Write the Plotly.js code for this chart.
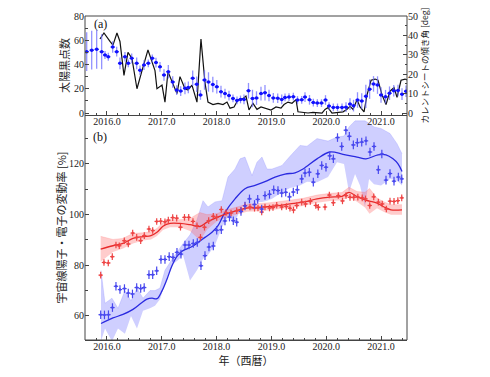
<!DOCTYPE html>
<html><head><meta charset="utf-8">
<script src="https://cdn.plot.ly/plotly-3.0.1.min.js"></script>
<style>html,body{margin:0;padding:0;background:#fff}#chart{width:490px;height:377px}</style>
</head><body><div id="chart"></div>
<script>
// ---- (a) sunspot number (left axis) ----
const sunspotYear = [2015.872,2015.945,2016.055,2016.109,2016.182,2016.237,2016.310,2016.383,2016.456,2016.547,2016.639,2016.748,2016.876,2016.912,2017.004,2017.058,2017.113,2017.186,2017.277,2017.332,2017.423,2017.478,2017.551,2017.642,2017.715,2017.788,2017.843,2017.934,2018.026,2018.117,2018.190,2018.245,2018.318,2018.391,2018.482,2018.536,2018.591,2018.664,2018.737,2018.810,2018.901,2018.993,2019.084,2019.175,2019.230,2019.303,2019.376,2019.449,2019.485,2019.577,2019.668,2019.759,2019.850,2019.923,2019.978,2020.033,2020.106,2020.197,2020.307,2020.380,2020.434,2020.489,2020.562,2020.617,2020.690,2020.745,2020.818,2020.891,2020.945,2021.018,2021.091,2021.164,2021.237,2021.292,2021.365,2021.438,2021.493];
const sunspotNumber = [61,66,59,56,66,59,31,50,45,20,35,52,35,20,23,9,34,26,16,30,20,19,23,9,61,25,9,7,8,7,9,4,5,11,12,14,2.5,8,3,5,4,2.5,5,4,7,9,8,11,1,0.4,0,0.5,0.5,0,3,4.5,0,0.5,1,3,5.5,3,11,5,1,15,27,28,27,15,7,18,21,13,27,28,27];

// ---- (a) current sheet tilt angle (right axis, deg) ----
const tiltYear = [2015.630,2015.721,2015.812,2015.903,2015.964,2016.024,2016.104,2016.177,2016.237,2016.328,2016.389,2016.451,2016.542,2016.602,2016.675,2016.754,2016.827,2016.894,2016.967,2017.040,2017.119,2017.199,2017.272,2017.345,2017.423,2017.484,2017.564,2017.637,2017.706,2017.779,2017.852,2017.931,2018.004,2018.080,2018.153,2018.226,2018.299,2018.372,2018.436,2018.500,2018.582,2018.655,2018.728,2018.810,2018.883,2018.956,2019.035,2019.115,2019.188,2019.248,2019.321,2019.400,2019.476,2019.553,2019.613,2019.695,2019.765,2019.838,2019.914,2019.987,2020.051,2020.130,2020.206,2020.288,2020.361,2020.434,2020.498,2020.571,2020.648,2020.723,2020.792,2020.863,2020.936,2021.000,2021.082,2021.155,2021.232,2021.310,2021.383,2021.456];
const tiltAngle = [31.6,32.4,32.8,31.6,29.9,29,34,31.6,25.6,29,25.6,28.2,25.6,22,24.7,25.6,28.2,26,23.8,19.6,21.3,16,11.8,11.3,12.7,13.2,17.9,14.8,9.3,17,16,14.7,13.5,11,10,9,7.5,6.5,7,7,11.5,7.5,7.7,10,10.5,9,7.8,7.6,7,8,8.2,8.4,6.7,6.8,8.2,6.8,5.4,5.1,5.1,6.7,3.6,2.9,2.9,2.9,3,4.6,3.8,6.7,6.2,8.6,12.3,15,14.4,9.3,8.4,10.2,11.5,11.6,9.7,11.2];
const tiltErr = [10,10,10,9,2,2,3,2.5,3,2.5,2,2.5,3,2.5,2.5,2,2,2.5,2.5,3,3.5,3,2.5,2.5,3,3,4,4,2.5,5,5,4,3.5,3,2.5,2.5,2,2,2,2.5,4,4.5,3.5,3.5,4,3,2.5,2.5,2.5,2,2,2,2,2,2.5,2.5,2,2,2,2.5,2,2,2,2,2.5,3,3,4,4,6,5,4,4.5,4,3.5,3.5,3,3,3,3];
const tiltHalfRotation = 0.037;

// ---- (b) cosmic-ray variation (%) ----
const redYear = [2015.885,2015.945,2016.024,2016.097,2016.164,2016.224,2016.316,2016.389,2016.469,2016.542,2016.615,2016.681,2016.766,2016.834,2016.907,2016.980,2017.058,2017.119,2017.199,2017.272,2017.341,2017.414,2017.491,2017.569,2017.642,2017.706,2017.779,2017.856,2017.940,2018.002,2018.086,2018.172,2018.263,2018.367,2018.445,2018.518,2018.609,2018.692,2018.755,2018.823,2018.883,2018.965,2019.029,2019.097,2019.188,2019.272,2019.339,2019.403,2019.462,2019.553,2019.622,2019.710,2019.810,2019.856,2019.978,2020.057,2020.130,2020.221,2020.297,2020.361,2020.434,2020.502,2020.577,2020.657,2020.717,2020.794,2020.867,2020.951,2021.022,2021.097,2021.164,2021.237,2021.307,2021.378];
const redRate = [76.1,81.1,80.9,83.4,88,87.7,89.7,88.4,92.7,91,89.7,91.7,94.3,93.7,97.3,97.4,97.2,97.8,98.8,98.6,95,98.9,98.9,97.3,95.6,91,95,97.6,99.3,98.9,102,100.8,100.6,101.5,101.7,103.6,103,102.5,102.6,101,103,102.6,102.8,103.7,103,103.2,102.5,101.8,103.6,104.9,104.2,105.2,103.6,102.9,103,107.7,104.7,107.5,105.4,107.5,106.8,106.8,106.9,106.6,106.2,103.6,107,104.9,104.2,102.2,105.3,105.2,105.5,106.6];

const blueYear = [2015.885,2015.954,2016.027,2016.100,2016.164,2016.237,2016.319,2016.389,2016.465,2016.542,2016.615,2016.679,2016.766,2016.834,2016.907,2016.985,2017.058,2017.135,2017.204,2017.277,2017.350,2017.423,2017.496,2017.575,2017.648,2017.715,2017.788,2017.861,2017.940,2018.002,2018.086,2018.153,2018.235,2018.305,2018.367,2018.445,2018.518,2018.600,2018.692,2018.750,2018.823,2018.883,2018.965,2019.042,2019.120,2019.188,2019.261,2019.330,2019.400,2019.473,2019.553,2019.613,2019.692,2019.765,2019.847,2019.918,2019.996,2020.064,2020.130,2020.206,2020.283,2020.358,2020.422,2020.495,2020.568,2020.648,2020.726,2020.799,2020.872,2020.951,2021.015,2021.091,2021.164,2021.237,2021.316,2021.378];
const blueRate = [60.5,60.4,60.5,63.3,71.7,70.4,70.8,69,68.7,71.2,70.8,71.2,76.3,76.3,77.8,82.3,82.3,83.4,83.1,85.1,84.4,88,88,88.6,89,79.8,83.8,87.2,87.6,93.8,94,97.5,99,97.6,97,101.2,103.4,106.2,104,106,102.2,107.5,108,109.8,109.5,108.5,108.8,107,108.9,109.8,114.1,116.4,116.7,112.8,116.1,119.4,118.7,123.2,122,130.4,126.9,133.3,130.9,127.5,128.4,128.6,129.1,124.7,126.9,117.7,123.9,113.6,116.2,113.2,114.8,114.1];
const crossErrX = 0.04;
const crossErrY = 1.3;

const redFitYear = [2015.885,2016.109,2016.292,2016.474,2016.657,2016.803,2016.912,2017.022,2017.150,2017.332,2017.515,2017.697,2017.825,2018.007,2018.190,2018.372,2018.555,2018.737,2018.974,2019.339,2019.577,2019.832,2020.069,2020.288,2020.416,2020.562,2020.708,2020.790,2020.927,2021.055,2021.182,2021.383];
const redFit = [86.4,87.7,88.6,90.6,91.3,91.7,93,95.4,96.5,96.5,96,95.3,97,98.9,100.4,101.6,102.6,102.8,103.2,104.2,104.9,106.2,106.9,107.2,108.8,107.1,105.8,105.3,104.5,103,101.9,101.9];
const redFitErr = [5,2.5,2,2,1.5,1.5,1.5,1.5,1.5,1.5,2.5,5.5,3,1.5,1.5,1.5,1.5,1.5,1.5,1.5,1.5,1.5,1.5,1.5,2,2,3,5,2,2,2,2];

const blueFitYear = [2015.891,2016.109,2016.292,2016.474,2016.620,2016.730,2016.821,2016.912,2017.004,2017.095,2017.186,2017.277,2017.369,2017.460,2017.551,2017.661,2017.788,2017.916,2018.026,2018.153,2018.336,2018.518,2018.701,2018.883,2019.066,2019.248,2019.431,2019.577,2019.832,2020.069,2020.307,2020.562,2020.726,2020.945,2021.091,2021.219,2021.310,2021.383];
const blueFit = [57,59.2,60.6,62.6,65,66.6,67,66.8,69.9,74.5,79.8,83.5,85.5,86.5,87.4,89,91,93,95.6,100.9,106.2,110.2,111.5,113,114.8,116,116.5,118,122,124.7,123.8,122.7,122,123.6,123.6,122,120,117];

const blueBandYear = [2015.891,2015.964,2016.091,2016.201,2016.328,2016.438,2016.547,2016.657,2016.785,2016.876,2016.967,2017.058,2017.204,2017.296,2017.387,2017.515,2017.642,2017.752,2017.843,2017.971,2018.099,2018.208,2018.336,2018.427,2018.518,2018.646,2018.737,2018.828,2018.920,2019.011,2019.193,2019.339,2019.522,2019.650,2019.832,2020.033,2020.197,2020.325,2020.416,2020.526,2020.617,2020.708,2020.781,2020.872,2021.000,2021.164,2021.292,2021.383];
const blueBandHi = [78,65,67,63,70,66,71,67,70,70,71,78,83,86,88.5,92,98,105.5,103,105,105.5,114.8,118,122,122.7,115.4,120.7,122.7,118,118,119.4,123,127.3,127,130,129,130.6,131,134.6,137,137,137,136,134.6,134,132,128,124];
const blueBandLo = [50,55,50,55,53,60,55,62,63,64,66.6,72.6,80.5,82,84,74,78,82.5,84,88,95,99,97,102,105,101.6,105,105,105.5,106.2,108.8,110.5,111.5,113,112.8,114.8,120.7,120,108.8,116,111.5,103,114,112,111.5,114,113.5,111.5];

const yearTicks = [2016,2017,2018,2019,2020,2021];

const redLo = redFit.map((v,i)=>v-redFitErr[i]);
const redHi = redFit.map((v,i)=>v+redFitErr[i]);

const AX = '#444';
const serif = 'Liberation Serif, Times New Roman, serif';
const cjk = 'Noto Sans CJK JP, sans-serif';

const traces = [
  {x: sunspotYear, y: sunspotNumber, xaxis:'x2', yaxis:'y2', mode:'lines', line:{color:'#111', width:1.2}, hoverinfo:'skip'},
  {x: tiltYear, y: tiltAngle, xaxis:'x2', yaxis:'y3', mode:'markers', marker:{color:'#1010ff', size:3.5},
   error_y:{type:'data', array: tiltErr, visible:true, color:'rgba(110,110,255,0.75)', thickness:1.3, width:0},
   error_x:{type:'constant', value: tiltHalfRotation, visible:true, color:'#1010ff', thickness:1.4, width:0}},
  {x: blueBandYear, y: blueBandLo, mode:'lines', line:{width:0, color:'rgba(0,0,0,0)'}, hoverinfo:'skip'},
  {x: blueBandYear, y: blueBandHi, mode:'lines', fill:'tonexty', fillcolor:'rgba(110,110,255,0.33)', line:{width:0.5, color:'rgba(110,110,255,0.4)'}, hoverinfo:'skip'},
  {x: redFitYear, y: redLo, mode:'lines', line:{width:0, color:'rgba(0,0,0,0)'}, hoverinfo:'skip'},
  {x: redFitYear, y: redHi, mode:'lines', fill:'tonexty', fillcolor:'rgba(255,100,100,0.33)', line:{width:0.5, color:'rgba(255,100,100,0.4)'}, hoverinfo:'skip'},
  {x: blueFitYear, y: blueFit, mode:'lines', line:{color:'#2a2ae0', width:1.3, shape:'spline'}},
  {x: redFitYear, y: redFit, mode:'lines', line:{color:'#e82a2a', width:1.3, shape:'spline'}},
  {x: redYear, y: redRate, mode:'markers', marker:{color:'#ee4444', size:2.5},
   error_y:{type:'constant', value: crossErrY, color:'#ee4444', thickness:1.2, width:0},
   error_x:{type:'constant', value: crossErrX, color:'#ee4444', thickness:1.2, width:0}},
  {x: blueYear, y: blueRate, mode:'markers', marker:{color:'#4848ee', size:2.5},
   error_y:{type:'constant', value: crossErrY*1.3, color:'#4848ee', thickness:1.2, width:0},
   error_x:{type:'constant', value: crossErrX, color:'#4848ee', thickness:1.2, width:0}}
];

const xCommon = {
  range:[2015.599, 2021.474], tickvals: yearTicks, tickformat:'.1f',
  ticks:'inside', ticklen:4, tickcolor:AX, tickwidth:1, ticklabelstandoff:-3,
  minor:{dtick:0.2, tick0:2016, ticks:'inside', ticklen:2.5, tickcolor:AX},
  showgrid:false, zeroline:false, showline:true, linecolor:AX, linewidth:1,
  tickfont:{family:serif, size:10, color:'#222'}
};

const layout = {
  width:490, height:377,
  margin:{l:85, r:83, t:16, b:37},
  paper_bgcolor:'#fff', plot_bgcolor:'rgba(0,0,0,0)',
  showlegend:false,
  font:{family:serif, size:10, color:'#222'},
  xaxis: Object.assign({}, xCommon, {anchor:'y', domain:[0,1],
    title:{text:'年（西暦）', font:{family:cjk, size:11, color:'#222'}, standoff:0}}),
  xaxis2: Object.assign({}, xCommon, {anchor:'y2', domain:[0,1], matches:'x'}),
  yaxis:{domain:[0,0.6944], range:[50.5,139.3], tick0:0, dtick:20, ticks:'inside', ticklen:4, tickcolor:AX,
    minor:{dtick:10, ticks:'inside', ticklen:2.5, tickcolor:AX},
    showgrid:false, zeroline:false, showline:false, tickfont:{family:serif, size:10, color:'#222'},
    title:{text:'宇宙線陽子・電子の変動率 [%]', font:{family:cjk, size:11, color:'#222'}, standoff:0}},
  yaxis2:{domain:[0.6944,1], anchor:'x2', range:[-1.65,80], tick0:0, dtick:20, ticks:'inside', ticklen:4, tickcolor:AX,
    minor:{dtick:10, ticks:'inside', ticklen:2.5, tickcolor:AX},
    showgrid:false, zeroline:false, showline:false, tickfont:{family:serif, size:10, color:'#222'},
    title:{text:'太陽黒点数', font:{family:cjk, size:11, color:'#222'}, standoff:2}},
  yaxis3:{overlaying:'y2', anchor:'x2', side:'right', range:[-1.03,50], tick0:0, dtick:10, ticks:'inside', ticklen:4, tickcolor:AX,
    minor:{dtick:5, ticks:'inside', ticklen:2.5, tickcolor:AX},
    showgrid:false, zeroline:false, showline:false, tickfont:{family:serif, size:10, color:'#222'},
    title:{text:'カレントシートの傾き角 [deg]', font:{family:cjk, size:8.5, color:'#222'}, standoff:4}},
  shapes:[{type:'rect', xref:'paper', yref:'paper', x0:0, x1:1, y0:0, y1:1, line:{color:AX, width:1}, layer:'above'}],
  annotations:[
    {text:'(a)', xref:'paper', yref:'paper', x:0.047, y:0.975, xanchor:'center', yanchor:'middle', showarrow:false, font:{family:serif, size:12, color:'#111'}},
    {text:'(b)', xref:'paper', yref:'paper', x:0.047, y:0.627, xanchor:'center', yanchor:'middle', showarrow:false, font:{family:serif, size:12, color:'#111'}}
  ]
};

Plotly.newPlot('chart', traces, layout, {displayModeBar:false, staticPlot:true});
</script></body></html>
